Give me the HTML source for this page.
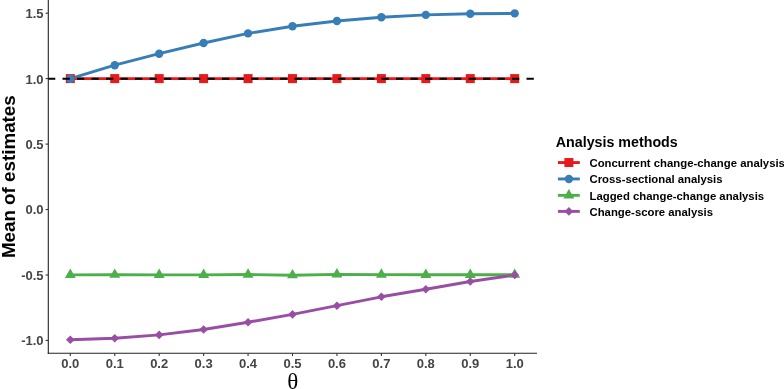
<!DOCTYPE html>
<html><head><meta charset="utf-8"><style>
html,body{margin:0;padding:0;background:#fff;}
body{width:784px;height:389px;overflow:hidden;}
svg{display:block;will-change:transform;}
text{font-family:"Liberation Sans",sans-serif;font-weight:bold;}
.tk{font-size:13px;fill:#444;}
.yl{font-size:18.8px;fill:#000;}
.lt{font-size:14.25px;fill:#000;}
.lg{font-size:11.35px;fill:#000;}
.th{font-family:"Liberation Serif",serif;font-weight:normal;font-size:23px;fill:#000;}
</style></head><body>
<svg width="784" height="389" viewBox="0 0 784 389">
<rect width="784" height="389" fill="#fff"/>
<polyline points="70.30,78.60 114.74,78.60 159.18,78.60 203.62,78.60 248.06,78.60 292.50,78.60 336.94,78.60 381.38,78.60 425.82,78.60 470.26,78.60 514.70,78.60" fill="none" stroke="#E41A1C" stroke-width="2.9" stroke-linejoin="round" stroke-linecap="butt"/>
<polyline points="70.30,78.70 114.74,65.20 159.18,53.70 203.62,43.00 248.06,33.40 292.50,26.30 336.94,21.00 381.38,17.20 425.82,14.90 470.26,13.70 514.70,13.40" fill="none" stroke="#377EB8" stroke-width="2.9" stroke-linejoin="round" stroke-linecap="butt"/>
<polyline points="70.30,274.90 114.74,274.70 159.18,274.90 203.62,274.90 248.06,274.50 292.50,275.20 336.94,274.40 381.38,274.60 425.82,274.80 470.26,274.80 514.70,274.70" fill="none" stroke="#4DAF4A" stroke-width="2.9" stroke-linejoin="round" stroke-linecap="butt"/>
<polyline points="70.30,339.80 114.74,338.30 159.18,334.90 203.62,329.50 248.06,322.20 292.50,314.40 336.94,305.70 381.38,296.80 425.82,289.20 470.26,281.50 514.70,275.00" fill="none" stroke="#984EA3" stroke-width="2.9" stroke-linejoin="round" stroke-linecap="butt"/>
<rect x="65.80" y="74.10" width="9.00" height="9.00" fill="#E41A1C"/>
<rect x="110.24" y="74.10" width="9.00" height="9.00" fill="#E41A1C"/>
<rect x="154.68" y="74.10" width="9.00" height="9.00" fill="#E41A1C"/>
<rect x="199.12" y="74.10" width="9.00" height="9.00" fill="#E41A1C"/>
<rect x="243.56" y="74.10" width="9.00" height="9.00" fill="#E41A1C"/>
<rect x="288.00" y="74.10" width="9.00" height="9.00" fill="#E41A1C"/>
<rect x="332.44" y="74.10" width="9.00" height="9.00" fill="#E41A1C"/>
<rect x="376.88" y="74.10" width="9.00" height="9.00" fill="#E41A1C"/>
<rect x="421.32" y="74.10" width="9.00" height="9.00" fill="#E41A1C"/>
<rect x="465.76" y="74.10" width="9.00" height="9.00" fill="#E41A1C"/>
<rect x="510.20" y="74.10" width="9.00" height="9.00" fill="#E41A1C"/>
<circle cx="70.30" cy="78.70" r="4.2" fill="#377EB8"/>
<circle cx="114.74" cy="65.20" r="4.2" fill="#377EB8"/>
<circle cx="159.18" cy="53.70" r="4.2" fill="#377EB8"/>
<circle cx="203.62" cy="43.00" r="4.2" fill="#377EB8"/>
<circle cx="248.06" cy="33.40" r="4.2" fill="#377EB8"/>
<circle cx="292.50" cy="26.30" r="4.2" fill="#377EB8"/>
<circle cx="336.94" cy="21.00" r="4.2" fill="#377EB8"/>
<circle cx="381.38" cy="17.20" r="4.2" fill="#377EB8"/>
<circle cx="425.82" cy="14.90" r="4.2" fill="#377EB8"/>
<circle cx="470.26" cy="13.70" r="4.2" fill="#377EB8"/>
<circle cx="514.70" cy="13.40" r="4.2" fill="#377EB8"/>
<polygon points="70.30,268.60 75.75,278.05 64.85,278.05" fill="#4DAF4A"/>
<polygon points="114.74,268.40 120.19,277.85 109.29,277.85" fill="#4DAF4A"/>
<polygon points="159.18,268.60 164.63,278.05 153.73,278.05" fill="#4DAF4A"/>
<polygon points="203.62,268.60 209.07,278.05 198.17,278.05" fill="#4DAF4A"/>
<polygon points="248.06,268.20 253.51,277.65 242.61,277.65" fill="#4DAF4A"/>
<polygon points="292.50,268.90 297.95,278.35 287.05,278.35" fill="#4DAF4A"/>
<polygon points="336.94,268.10 342.39,277.55 331.49,277.55" fill="#4DAF4A"/>
<polygon points="381.38,268.30 386.83,277.75 375.93,277.75" fill="#4DAF4A"/>
<polygon points="425.82,268.50 431.27,277.95 420.37,277.95" fill="#4DAF4A"/>
<polygon points="470.26,268.50 475.71,277.95 464.81,277.95" fill="#4DAF4A"/>
<polygon points="514.70,268.40 520.15,277.85 509.25,277.85" fill="#4DAF4A"/>
<polygon points="66.00,339.80 70.30,335.50 74.60,339.80 70.30,344.10" fill="#984EA3"/>
<polygon points="110.44,338.30 114.74,334.00 119.04,338.30 114.74,342.60" fill="#984EA3"/>
<polygon points="154.88,334.90 159.18,330.60 163.48,334.90 159.18,339.20" fill="#984EA3"/>
<polygon points="199.32,329.50 203.62,325.20 207.92,329.50 203.62,333.80" fill="#984EA3"/>
<polygon points="243.76,322.20 248.06,317.90 252.36,322.20 248.06,326.50" fill="#984EA3"/>
<polygon points="288.20,314.40 292.50,310.10 296.80,314.40 292.50,318.70" fill="#984EA3"/>
<polygon points="332.64,305.70 336.94,301.40 341.24,305.70 336.94,310.00" fill="#984EA3"/>
<polygon points="377.08,296.80 381.38,292.50 385.68,296.80 381.38,301.10" fill="#984EA3"/>
<polygon points="421.52,289.20 425.82,284.90 430.12,289.20 425.82,293.50" fill="#984EA3"/>
<polygon points="465.96,281.50 470.26,277.20 474.56,281.50 470.26,285.80" fill="#984EA3"/>
<polygon points="510.40,275.00 514.70,270.70 519.00,275.00 514.70,279.30" fill="#984EA3"/>
<line x1="48" y1="78.8" x2="537" y2="78.8" stroke="#000" stroke-width="1.9" stroke-dasharray="7.3 7.2"/>
<line x1="48.3" y1="0" x2="48.3" y2="353.85" stroke="#222" stroke-width="1.1"/>
<line x1="47.75" y1="353.3" x2="537" y2="353.3" stroke="#222" stroke-width="1.1"/>
<line x1="45.6" y1="13.2" x2="48.3" y2="13.2" stroke="#333" stroke-width="1.1"/>
<text x="43.6" y="18.10" text-anchor="end" class="tk">1.5</text>
<line x1="45.6" y1="78.6" x2="48.3" y2="78.6" stroke="#333" stroke-width="1.1"/>
<text x="43.6" y="83.50" text-anchor="end" class="tk">1.0</text>
<line x1="45.6" y1="144.1" x2="48.3" y2="144.1" stroke="#333" stroke-width="1.1"/>
<text x="43.6" y="149.00" text-anchor="end" class="tk">0.5</text>
<line x1="45.6" y1="209.5" x2="48.3" y2="209.5" stroke="#333" stroke-width="1.1"/>
<text x="43.6" y="214.40" text-anchor="end" class="tk">0.0</text>
<line x1="45.6" y1="275.0" x2="48.3" y2="275.0" stroke="#333" stroke-width="1.1"/>
<text x="43.6" y="279.90" text-anchor="end" class="tk">-0.5</text>
<line x1="45.6" y1="340.4" x2="48.3" y2="340.4" stroke="#333" stroke-width="1.1"/>
<text x="43.6" y="345.30" text-anchor="end" class="tk">-1.0</text>
<line x1="70.30" y1="353.3" x2="70.30" y2="356" stroke="#333" stroke-width="1.1"/>
<text x="70.30" y="367.8" text-anchor="middle" class="tk">0.0</text>
<line x1="114.74" y1="353.3" x2="114.74" y2="356" stroke="#333" stroke-width="1.1"/>
<text x="114.74" y="367.8" text-anchor="middle" class="tk">0.1</text>
<line x1="159.18" y1="353.3" x2="159.18" y2="356" stroke="#333" stroke-width="1.1"/>
<text x="159.18" y="367.8" text-anchor="middle" class="tk">0.2</text>
<line x1="203.62" y1="353.3" x2="203.62" y2="356" stroke="#333" stroke-width="1.1"/>
<text x="203.62" y="367.8" text-anchor="middle" class="tk">0.3</text>
<line x1="248.06" y1="353.3" x2="248.06" y2="356" stroke="#333" stroke-width="1.1"/>
<text x="248.06" y="367.8" text-anchor="middle" class="tk">0.4</text>
<line x1="292.50" y1="353.3" x2="292.50" y2="356" stroke="#333" stroke-width="1.1"/>
<text x="292.50" y="367.8" text-anchor="middle" class="tk">0.5</text>
<line x1="336.94" y1="353.3" x2="336.94" y2="356" stroke="#333" stroke-width="1.1"/>
<text x="336.94" y="367.8" text-anchor="middle" class="tk">0.6</text>
<line x1="381.38" y1="353.3" x2="381.38" y2="356" stroke="#333" stroke-width="1.1"/>
<text x="381.38" y="367.8" text-anchor="middle" class="tk">0.7</text>
<line x1="425.82" y1="353.3" x2="425.82" y2="356" stroke="#333" stroke-width="1.1"/>
<text x="425.82" y="367.8" text-anchor="middle" class="tk">0.8</text>
<line x1="470.26" y1="353.3" x2="470.26" y2="356" stroke="#333" stroke-width="1.1"/>
<text x="470.26" y="367.8" text-anchor="middle" class="tk">0.9</text>
<line x1="514.70" y1="353.3" x2="514.70" y2="356" stroke="#333" stroke-width="1.1"/>
<text x="514.70" y="367.8" text-anchor="middle" class="tk">1.0</text>
<text x="292.8" y="389.1" text-anchor="middle" class="th">θ</text>
<text transform="translate(15.2 176.7) rotate(-90)" text-anchor="middle" class="yl">Mean of estimates</text>
<text x="555.8" y="146.6" class="lt">Analysis methods</text>
<line x1="557.9" y1="162.55" x2="579.8" y2="162.55" stroke="#E41A1C" stroke-width="2.9"/>
<rect x="564.40" y="158.05" width="9.00" height="9.00" fill="#E41A1C"/>
<text x="589.5" y="166.85" class="lg">Concurrent change-change analysis</text>
<line x1="557.9" y1="178.95" x2="579.8" y2="178.95" stroke="#377EB8" stroke-width="2.9"/>
<circle cx="568.90" cy="178.95" r="4.2" fill="#377EB8"/>
<text x="589.5" y="183.25" class="lg">Cross-sectional analysis</text>
<line x1="557.9" y1="195.35" x2="579.8" y2="195.35" stroke="#4DAF4A" stroke-width="2.9"/>
<polygon points="568.90,189.05 574.35,198.50 563.45,198.50" fill="#4DAF4A"/>
<text x="589.5" y="199.65" class="lg">Lagged change-change analysis</text>
<line x1="557.9" y1="211.4" x2="579.8" y2="211.4" stroke="#984EA3" stroke-width="2.9"/>
<polygon points="564.60,211.40 568.90,207.10 573.20,211.40 568.90,215.70" fill="#984EA3"/>
<text x="589.5" y="215.70" class="lg">Change-score analysis</text>
</svg>
</body></html>
